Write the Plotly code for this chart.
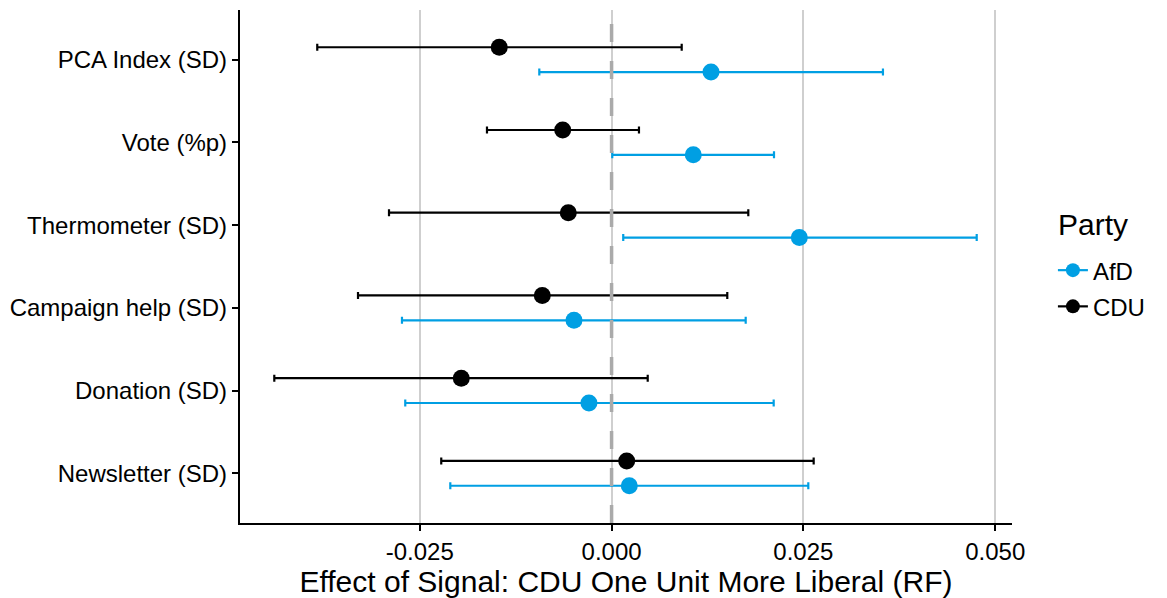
import plotly.graph_objects as go

# ---- data ----
outcomes = ["Newsletter (SD)", "Donation (SD)", "Campaign help (SD)",
            "Thermometer (SD)", "Vote (%p)", "PCA Index (SD)"]

afd_est = [0.00231, -0.00295, -0.00490, 0.02447, 0.01065, 0.01296]
afd_lo  = [-0.02102, -0.02689, -0.02732, 0.00152, 0.00009, -0.00942]
afd_hi  = [0.02564, 0.02113, 0.01748, 0.04759, 0.02117, 0.03537]

cdu_est = [0.00197, -0.01959, -0.00903, -0.00564, -0.00637, -0.01464]
cdu_lo  = [-0.02220, -0.04396, -0.03305, -0.02901, -0.01624, -0.03836]
cdu_hi  = [0.02634, 0.00471, 0.01508, 0.01782, 0.00357, 0.00914]

x_ticks = [-0.025, 0.0, 0.025, 0.05]
x_tick_labels = ["-0.025", "0.000", "0.025", "0.050"]

AFD_COLOR = "#009FE3"
CDU_COLOR = "#000000"
FONT = "Liberation Sans, Arial, sans-serif"

base_y = list(range(1, len(outcomes) + 1))
dodge = 0.15

fig = go.Figure()


def add_series(name, est, lo, hi, color, offset):
    ys = [b + offset for b in base_y]
    fig.add_trace(go.Scatter(
        x=est, y=ys, mode="markers", name=name, showlegend=False,
        marker=dict(color=color, size=17),
        error_x=dict(type="data", symmetric=False,
                     array=[h - e for h, e in zip(hi, est)],
                     arrayminus=[e - l for e, l in zip(est, lo)],
                     color=color, thickness=2.2, width=3.5),
        hoverinfo="skip",
    ))


add_series("CDU", cdu_est, cdu_lo, cdu_hi, CDU_COLOR, dodge)
add_series("AfD", afd_est, afd_lo, afd_hi, AFD_COLOR, -dodge)

# legend entries (line + dot keys)
for name, color in [("AfD", AFD_COLOR), ("CDU", CDU_COLOR)]:
    fig.add_trace(go.Scatter(
        x=[None], y=[None], mode="lines+markers", name=name,
        legendgroup=name,
        line=dict(color=color, width=2.2),
        marker=dict(color=color, size=14),
    ))

# dashed reference line at zero
fig.add_shape(type="line", xref="x", yref="paper", x0=0, x1=0, y0=0, y1=1,
              line=dict(color="#AAAAAA", width=3.5, dash="18px,19px"),
              layer="above")

# legend title
fig.add_annotation(text="Party", xref="paper", yref="paper",
                   x=1.0575, y=0.581, xanchor="left", yanchor="middle",
                   showarrow=False, font=dict(size=30, color="black"))

fig.update_layout(
    width=1167, height=598,
    margin=dict(l=240, r=155, t=10, b=75),
    paper_bgcolor="white", plot_bgcolor="white",
    font=dict(family=FONT, color="black", size=24),
    legend=dict(
        font=dict(size=24),
        x=1.053, xanchor="left", y=0.457, yanchor="middle",
        bgcolor="rgba(0,0,0,0)", tracegroupgap=2,
    ),
    xaxis=dict(
        range=[-0.04843, 0.05219],
        tickvals=x_ticks, ticktext=x_tick_labels,
        showgrid=True, gridcolor="#CFCFCF", gridwidth=1.6,
        zeroline=False, automargin=False,
        showline=True, linecolor="black", linewidth=2.2,
        ticks="outside", ticklen=6, tickwidth=2, tickcolor="black",
        tickfont=dict(size=24, color="black"),
        title=dict(text="Effect of Signal: CDU One Unit More Liberal (RF)",
                   font=dict(size=30), standoff=4),
    ),
    yaxis=dict(
        range=[0.4, 6.6],
        tickvals=base_y, ticktext=outcomes,
        showgrid=False, zeroline=False, automargin=False,
        showline=True, linecolor="black", linewidth=2.2,
        ticks="outside", ticklen=6, tickwidth=2, tickcolor="black",
        tickfont=dict(size=24, color="black"),
    ),
)

fig.write_html("out.html")
